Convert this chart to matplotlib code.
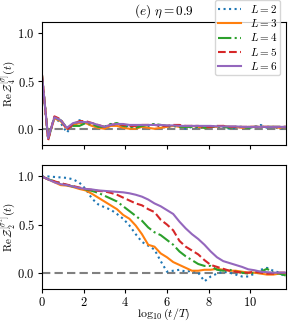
import numpy as np
import matplotlib
matplotlib.use('Agg')
import matplotlib.pyplot as plt

plt.rcParams['font.family'] = 'serif'
plt.rcParams['font.serif'] = ['cmr10', 'DejaVu Serif']
plt.rcParams['mathtext.fontset'] = 'cm'
plt.rcParams['axes.formatter.use_mathtext'] = True
plt.rcParams['font.size'] = 9

# log10(t/T) grid
x = np.round(np.arange(40) * 0.3, 2)

labels = ['$L=2$', '$L=3$', '$L=4$', '$L=5$', '$L=6$']
colors = ['tab:blue', 'tab:orange', 'tab:green', 'tab:red', 'tab:purple']
styles = [':', '-', '-.', '--', '-']

# top panel: Re Z_4
top_L2 = [0.57, -0.09, 0.12, 0.06, -0.04, 0.05, 0.09, 0.06, 0.03, 0.02,
          0.02, 0.05, 0.04, 0.02, 0.03, 0.01, 0.03, 0.02, 0.05, 0.02,
          0.01, 0.03, 0.02, 0.0, 0.02, 0.01, 0.01, 0.02, 0.03, 0.02,
          0.0, 0.01, 0.02, 0.01, 0.02, 0.04, 0.01, 0.02, 0.0, 0.01]
top_L3 = [0.57, -0.10, 0.11, 0.08, 0.0, 0.04, 0.06, 0.06, 0.03, 0.01,
          0.0, 0.03, 0.03, 0.01, 0.0, 0.0, 0.02, 0.01, 0.0, 0.01,
          0.02, 0.03, 0.02, 0.02, 0.03, 0.02, 0.01, 0.02, 0.02, 0.03,
          0.02, 0.02, 0.01, 0.02, 0.02, 0.02, 0.02, 0.02, 0.01, 0.02]
top_L4 = [0.57, -0.11, 0.12, 0.09, 0.01, 0.03, 0.03, 0.06, 0.05, 0.02,
          0.02, 0.05, 0.06, 0.03, 0.02, 0.01, 0.03, 0.04, 0.05, 0.04,
          0.03, 0.03, 0.02, 0.02, 0.02, 0.02, 0.01, 0.02, 0.02, 0.02,
          0.01, 0.02, 0.02, 0.01, 0.02, 0.02, 0.02, 0.02, 0.02, 0.02]
top_L5 = [0.57, -0.12, 0.13, 0.10, -0.01, 0.05, 0.08, 0.08, 0.06, 0.04,
          0.02, 0.04, 0.05, 0.04, 0.03, 0.03, 0.04, 0.04, 0.04, 0.03,
          0.03, 0.04, 0.04, 0.03, 0.03, 0.03, 0.02, 0.02, 0.03, 0.03,
          0.02, 0.02, 0.02, 0.02, 0.02, 0.02, 0.02, 0.02, 0.02, 0.02]
top_L6 = [0.57, -0.10, 0.12, 0.09, 0.01, 0.06, 0.07, 0.07, 0.06, 0.04,
          0.02, 0.04, 0.05, 0.05, 0.04, 0.04, 0.04, 0.04, 0.04, 0.04,
          0.035, 0.035, 0.03, 0.03, 0.03, 0.03, 0.03, 0.03, 0.025, 0.025,
          0.025, 0.025, 0.02, 0.02, 0.02, 0.02, 0.02, 0.02, 0.02, 0.02]

# bottom panel: Re Z_2
bot_L2 = [1.0, 1.0, 0.995, 0.99, 0.985, 0.97, 0.935, 0.87, 0.77, 0.71,
          0.68, 0.655, 0.61, 0.56, 0.49, 0.40, 0.32, 0.28, 0.24, 0.12,
          0.01, 0.02, 0.03, 0.01, 0.02, 0.0, -0.09, -0.04, -0.01, 0.01,
          0.0, -0.02, -0.04, -0.04, -0.01, 0.03, 0.05, 0.02, 0.0, -0.05]
bot_L3 = [1.0, 0.97, 0.94, 0.91, 0.905, 0.89, 0.87, 0.855, 0.82, 0.78,
          0.74, 0.70, 0.66, 0.60, 0.56, 0.49, 0.40, 0.29, 0.27, 0.20,
          0.16, 0.11, 0.08, 0.05, 0.02, 0.02, 0.03, 0.03, 0.04, 0.03,
          0.02, 0.02, 0.01, 0.0, 0.0, -0.01, -0.02, -0.02, -0.01, -0.01]
bot_L4 = [1.0, 0.97, 0.95, 0.93, 0.91, 0.895, 0.88, 0.865, 0.85, 0.83,
          0.80, 0.77, 0.74, 0.69, 0.64, 0.59, 0.54, 0.47, 0.42, 0.39,
          0.34, 0.29, 0.22, 0.17, 0.13, 0.09, 0.07, 0.07, 0.03, 0.02,
          0.03, 0.01, 0.0, -0.01, 0.0, 0.01, 0.04, 0.0, -0.01, -0.03]
bot_L5 = [1.0, 0.97, 0.95, 0.93, 0.915, 0.90, 0.885, 0.87, 0.86, 0.85,
          0.845, 0.83, 0.81, 0.78, 0.75, 0.72, 0.70, 0.66, 0.63, 0.55,
          0.50, 0.44, 0.33, 0.27, 0.23, 0.19, 0.13, 0.08, 0.06, 0.04,
          0.02, 0.01, 0.0, 0.0, 0.01, 0.0, -0.01, -0.01, 0.0, 0.0]
bot_L6 = [1.0, 0.97, 0.94, 0.92, 0.91, 0.895, 0.88, 0.87, 0.865, 0.855,
          0.85, 0.845, 0.84, 0.835, 0.825, 0.81, 0.79, 0.76, 0.72, 0.69,
          0.65, 0.61, 0.53, 0.46, 0.40, 0.35, 0.29, 0.22, 0.16, 0.12,
          0.10, 0.08, 0.06, 0.035, 0.025, 0.01, 0.005, 0.0, 0.0, 0.0]

top_series = [top_L2, top_L3, top_L4, top_L5, top_L6]
bot_series = [bot_L2, bot_L3, bot_L4, bot_L5, bot_L6]

fig = plt.figure(figsize=(2.91, 3.24), dpi=100)
ax1 = fig.add_axes([0.144, 0.5525, 0.838, 0.38])
ax2 = fig.add_axes([0.144, 0.108, 0.838, 0.383])

for ax, series in zip([ax1, ax2], [top_series, bot_series]):
    ax.axhline(0, color='gray', linestyle='--', linewidth=1.5, dashes=(4, 2), zorder=1)
    for ys, c, ls, lab in zip(series, colors, styles, labels):
        ax.plot(x, ys, color=c, linestyle=ls, linewidth=1.5, label=lab, zorder=2)
    ax.set_xlim(0, 11.7)
    ax.set_ylim(-0.17, 1.12)
    ax.set_xticks([0, 2, 4, 6, 8, 10])
    ax.set_yticks([0.0, 0.5, 1.0])
    ax.tick_params(labelsize=9, pad=2, length=3)
    ax.yaxis.set_label_coords(-0.1, 0.5)

ax1.set_xticklabels([])
ax1.set_title(r'$(e)\ \eta=0.9$', fontsize=9.5, pad=5)
ax1.set_ylabel(r'$\mathrm{Re}\,\mathcal{Z}_4^{[\sigma]}(t)$', fontsize=8)
ax2.set_ylabel(r'$\mathrm{Re}\,\mathcal{Z}_2^{[\sigma^z]}(t)$', fontsize=8)
ax2.set_xlabel(r'$\log_{10}(t/T)$', fontsize=8.5)
ax2.xaxis.set_label_coords(0.5, -0.145)

ax1.legend(loc='upper right', bbox_to_anchor=(0.977, 1.18), borderaxespad=0,
           fontsize=8, handlelength=2.1, labelspacing=0.2, borderpad=0.3,
           handletextpad=0.75)

fig.savefig('out.png', dpi=100)
